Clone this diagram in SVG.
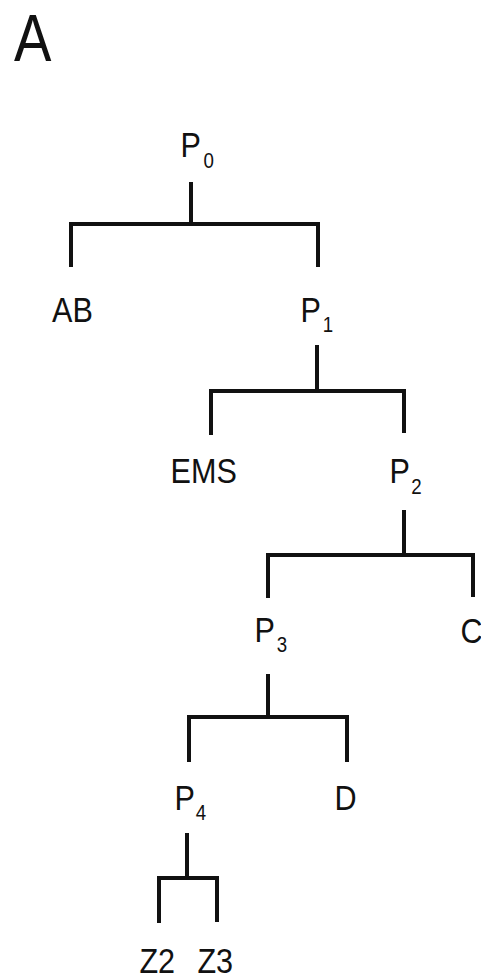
<svg xmlns="http://www.w3.org/2000/svg" width="481" height="980" viewBox="0 0 481 980">
<style>
  text { font-family: "Liberation Sans", Arial, Helvetica, sans-serif; fill: #111; }
  .lbl { font-size: 36px; }
  .sub { font-size: 22px; }
  .title { font-size: 66px; }
  .edge { fill: none; stroke: #111; stroke-width: 4; stroke-linecap: butt; stroke-linejoin: miter; }
</style>
<rect width="481" height="980" fill="#ffffff"/>
<text class="title" transform="translate(14,61) scale(0.85,1)">A</text>
<g id="connectors">
  <path class="edge" d="M191,182 V224 M71,267 V224 H318 V267"/>
  <path class="edge" d="M317,345 V391 M211,435 V391 H404 V433"/>
  <path class="edge" d="M404,510 V555 M268,598 V555 H473 V597"/>
  <path class="edge" d="M268,674 V717 M189,762 V717 H347 V762"/>
  <path class="edge" d="M187,833 V878 M159,923 V878 H217 V922"/>
</g>
<g id="P0"><text class="lbl" transform="translate(180.6,157) scale(0.85,1)">P<tspan class="sub" dx="3" dy="11">0</tspan></text></g>
<g id="AB"><text class="lbl" transform="translate(52,322) scale(0.85,1)">AB</text></g>
<g id="P1"><text class="lbl" transform="translate(300.6,322) scale(0.85,1)">P<tspan class="sub" dx="2" dy="10">1</tspan></text></g>
<g id="EMS"><text class="lbl" transform="translate(170.6,483) scale(0.85,1)">EMS</text></g>
<g id="P2"><text class="lbl" transform="translate(389.6,483) scale(0.85,1)">P<tspan class="sub" dx="1.5" dy="11">2</tspan></text></g>
<g id="P3"><text class="lbl" transform="translate(254.6,642) scale(0.85,1)">P<tspan class="sub" dx="2" dy="10">3</tspan></text></g>
<g id="C"><text class="lbl" transform="translate(460.5,643) scale(0.85,1)">C</text></g>
<g id="P4"><text class="lbl" transform="translate(174.6,810) scale(0.85,1)">P<tspan class="sub" dx="1" dy="10">4</tspan></text></g>
<g id="D"><text class="lbl" transform="translate(334.6,810) scale(0.85,1)">D</text></g>
<g id="Z2"><text class="lbl" transform="translate(139.4,973) scale(0.85,1)">Z2</text></g>
<g id="Z3"><text class="lbl" transform="translate(197.4,973) scale(0.85,1)">Z3</text></g>
</svg>
